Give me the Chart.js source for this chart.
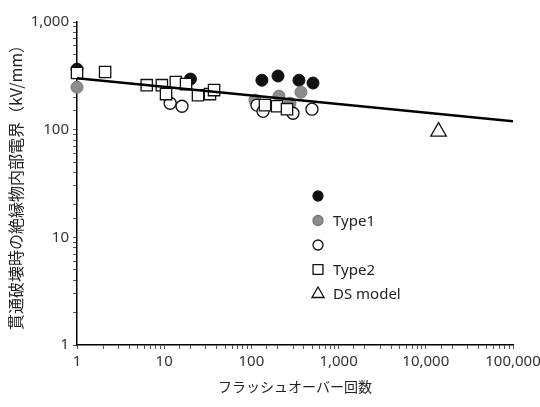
<!DOCTYPE html>
<html>
<head>
<meta charset="utf-8">
<script src="https://cdn.jsdelivr.net/npm/chart.js@4.4.1/dist/chart.umd.min.js"></script>
<style>
  html, body { margin: 0; padding: 0; background: #fff; }
</style>
</head>
<body>
<canvas id="myChart" width="540" height="407"></canvas>
<script>
// flashover count (x) vs internal field at breakdown (y, kV/mm)
const blackX = [1, 20, 132, 202, 351, 509];
const blackY = [365, 295, 288, 315, 288, 271];

const type1X = [1, 110, 207, 277, 370];
const type1Y = [248, 188, 205, 176, 223];

const openX = [11.7, 16, 116, 136, 300, 495];
const openY = [176, 165, 169, 148, 142, 155];

const type2X = [1, 2.1, 6.3, 9.4, 10.5, 13.6, 17.8, 24.4, 33.5, 37.3, 143, 197, 256];
const type2Y = [336, 343, 259, 259, 214, 277, 265, 209, 214, 233, 169, 165, 155];

const dsX = [14000];
const dsY = [96];

const fitX = [1, 100000];
const fitY = [300, 120];

const xTicks = [1, 10, 100, 1000, 10000, 100000];
const yTicks = [1, 10, 100, 1000];

const legendLabels = ['', 'Type1', '', 'Type2', 'DS model'];

function pts(xs, ys) {
  return xs.map((x, i) => ({ x: x, y: ys[i] }));
}

const tickFont = { family: 'Noto Sans', size: 15 };

const legendMarks = [
  { style: 'circle', r: 5, fill: '#111', stroke: '#111' },
  { style: 'circle', r: 5, fill: '#8c8c8c', stroke: '#777' },
  { style: 'circle', r: 5, fill: '#fff', stroke: '#111' },
  { style: 'rect', r: 7, fill: '#fff', stroke: '#111' },
  { style: 'triangle', r: 7, fill: '#fff', stroke: '#111' }
];

const sideLegend = {
  id: 'sideLegend',
  afterDraw(chart) {
    const c = chart.ctx;
    const x0 = chart.chartArea.left + 241;
    const y0 = 196;
    legendMarks.forEach((m, i) => {
      const y = y0 + i * 24.5;
      c.save();
      c.fillStyle = m.fill;
      c.strokeStyle = m.stroke;
      c.lineWidth = 1.3;
      Chart.helpers.drawPoint(c, { pointStyle: m.style, radius: m.r, borderWidth: 1.3, rotation: 0 }, x0, y);
      c.fillStyle = '#222';
      c.font = '15px "Noto Sans"';
      c.textBaseline = 'middle';
      c.fillText(legendLabels[i], x0 + 15, y + 1);
      c.restore();
    });
  }
};

const ctx = document.getElementById('myChart');

new Chart(ctx, {
  type: 'scatter',
  data: {
    datasets: [
      {
        label: 'fit',
        type: 'line',
        data: pts(fitX, fitY),
        borderColor: '#000',
        borderWidth: 2.5,
        pointRadius: 0,
        fill: false,
        order: 0
      },
      {
        label: 'Type2',
        data: pts(type2X, type2Y),
        pointStyle: 'rect',
        pointRadius: 8,
        backgroundColor: '#fff',
        borderColor: '#111',
        borderWidth: 1.3,
        clip: false,
        order: 1
      },
      {
        label: 'open',
        data: pts(openX, openY),
        pointStyle: 'circle',
        pointRadius: 6,
        backgroundColor: '#fff',
        borderColor: '#111',
        borderWidth: 1.3,
        clip: false,
        order: 2
      },
      {
        label: 'DS model',
        data: pts(dsX, dsY),
        pointStyle: 'triangle',
        pointRadius: 9,
        backgroundColor: '#fff',
        borderColor: '#111',
        borderWidth: 1.3,
        clip: false,
        order: 2
      },
      {
        label: 'Type1',
        data: pts(type1X, type1Y),
        pointStyle: 'circle',
        pointRadius: 6,
        backgroundColor: '#8c8c8c',
        borderColor: '#777',
        borderWidth: 1,
        clip: false,
        order: 3
      },
      {
        label: 'black',
        data: pts(blackX, blackY),
        pointStyle: 'circle',
        pointRadius: 6,
        backgroundColor: '#111',
        borderColor: '#111',
        borderWidth: 1,
        clip: false,
        order: 4
      }
    ]
  },
  options: {
    responsive: false,
    animation: false,
    layout: { padding: { top: 22, right: 27, left: 0, bottom: 0 } },
    scales: {
      x: {
        type: 'logarithmic',
        min: 1,
        max: 100000,
        afterFit: s => { s.height = 62; s.paddingRight = 0; },
        border: { color: '#000', width: 1.5 },
        grid: { drawOnChartArea: false, tickLength: 4, color: '#555' },
        ticks: {
          autoSkip: false,
          maxRotation: 0,
          color: '#333',
          font: tickFont,
          padding: 4,
          callback: v => xTicks.includes(v) ? v.toLocaleString('en-US') : ''
        },
        title: {
          display: true,
          text: 'フラッシュオーバー回数',
          color: '#222',
          font: { family: 'Noto Sans CJK JP', size: 14 },
          padding: { top: 4, bottom: 12 }
        }
      },
      y: {
        type: 'logarithmic',
        min: 1,
        max: 1000,
        afterFit: s => { s.width = 77; },
        border: { color: '#000', width: 1.5 },
        grid: { drawOnChartArea: false, tickLength: 4, color: '#555' },
        ticks: {
          autoSkip: false,
          color: '#333',
          font: tickFont,
          padding: 4,
          callback: v => yTicks.includes(v) ? v.toLocaleString('en-US') : ''
        },
        title: {
          display: true,
          text: '貫通破壊時の絶縁物内部電界（kV/mm）',
          color: '#222',
          font: { family: 'Noto Sans CJK JP', size: 16 },
          padding: { top: 6, bottom: 0 }
        }
      }
    },
    plugins: {
      legend: { display: false },
      tooltip: { enabled: false }
    }
  },
  plugins: [sideLegend]
});
</script>
</body>
</html>
